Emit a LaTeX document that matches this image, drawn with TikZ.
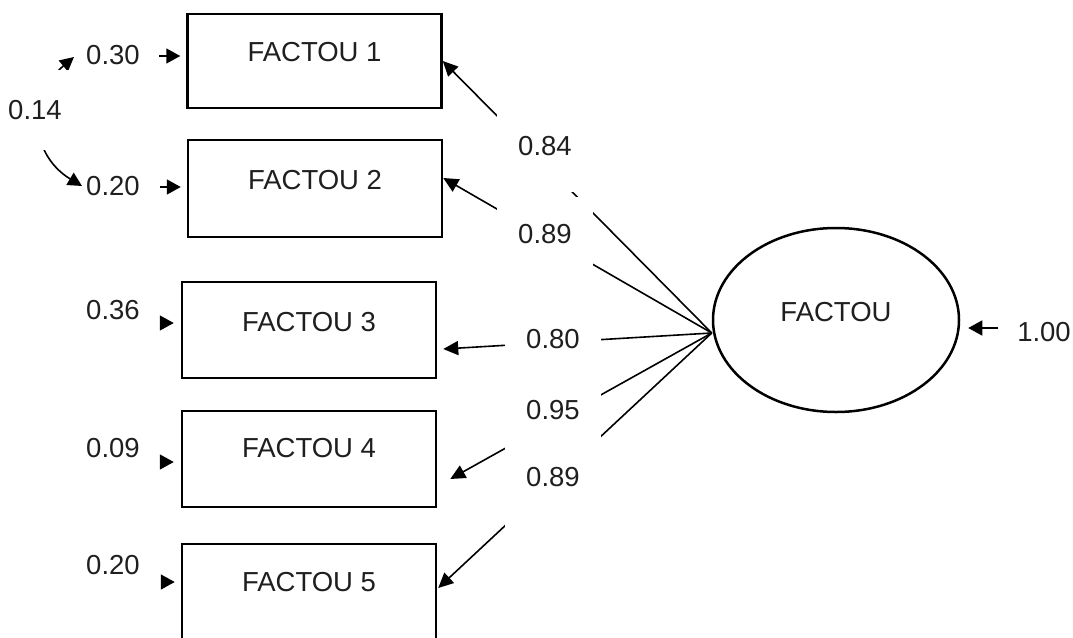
\documentclass[tikz,border=0pt]{standalone}
\usepackage{fontspec}
\setmainfont{Liberation Sans}
\usetikzlibrary{arrows.meta,shapes.geometric,calc}
\begin{document}
\begin{tikzpicture}[x=1pt,y=-1pt,
  every node/.style={font=\fontsize{27.5}{33}\selectfont, text=black!88},
  varbox/.style={draw, line width=2.5pt, rectangle, minimum width=254pt, inner sep=0pt},
  latent/.style={draw, line width=2.5pt, ellipse, minimum width=246pt, minimum height=184pt, inner sep=0pt},
  lbl/.style={fill=white, inner sep=0pt, minimum width=96pt},
  conn/.style={line width=1.6pt, -{Triangle[length=15pt,width=14pt]}},
  errarr/.style={line width=1.6pt, -{Triangle[length=14pt,width=15pt]}},
  cov/.style={line width=1.6pt, {Triangle[length=14pt,width=14pt]}-{Triangle[length=14pt,width=14pt]}}
]
\useasboundingbox (0,0) rectangle (1073,637);

% observed variables
\node[varbox, minimum height=94pt, label={[yshift=9pt]center:FACTOU 1}] (b1) at (314.5,61) {};
\node[varbox, minimum height=97pt, label={[yshift=8.5pt]center:FACTOU 2}] (b2) at (315,188.5) {};
\node[varbox, minimum height=96pt, label={[yshift=8pt]center:FACTOU 3}] (b3) at (309,330) {};
\node[varbox, minimum height=96pt, label={[yshift=11pt]center:FACTOU 4}] (b4) at (309,459) {};
\node[varbox, minimum height=96pt, label={[yshift=10pt]center:FACTOU 5}] (b5) at (309,592) {};

% latent variable
\node[latent, label={[yshift=8pt]center:FACTOU}] (lat) at (836,320) {};
\coordinate (cv) at ($(lat.west)+(0,13)$);

% loadings
\draw[conn] (cv) -- (b1.east);
\draw[conn] (cv) -- ($(b2.east)+(0,-10.5)$);
\draw[conn] (cv) -- ($(b3.east)+(6,19)$);
\draw[conn] (cv) -- ($(b4.east)+(13,20)$);
\draw[conn] (cv) -- ($(b5.east)+(1,-4)$);

\node[lbl, minimum height=92pt] (l1) at (545,146) {0.84};
\node[lbl, minimum height=74pt] (l2) at (545,234) {0.89};
\node[lbl, minimum height=70pt] (l3) at (553,339) {0.80};
\node[lbl, minimum height=70pt] (l4) at (553,410) {0.95};
\node[lbl, minimum height=104pt] (l5) at (553,477) {0.89};

% error terms
\node (e1) at (113,55) {0.30};
\node (e2) at (113,186) {0.20};
\node (e3) at (113,310) {0.36};
\node (e4) at (113,448) {0.09};
\node (e5) at (113,565) {0.20};
\draw[errarr] ($(b1.west)+(-27,-5)$) -- ($(b1.west)+(-6,-5)$);
\draw[errarr] ($(b2.west)+(-27,-1.5)$) -- ($(b2.west)+(-6,-1.5)$);
\draw[errarr] ($(b3.west)+(-21,-7)$) -- ($(b3.west)+(-7,-7)$);
\draw[errarr] ($(b4.west)+(-21,3)$) -- ($(b4.west)+(-7,3)$);
\draw[errarr] ($(b5.west)+(-20,-10)$) -- ($(b5.west)+(-6,-10)$);

% error covariance
\coordinate (c1) at (74,57);
\coordinate (c2) at (82,186);
\draw[cov] (c2) .. controls (32,156) and (24,99) .. (c1);
\node[fill=white, inner sep=0pt, minimum width=80pt, minimum height=80pt] (e0) at (35,110) {0.14};

% latent variance
\node (e6) at (1044,332) {1.00};
\draw[errarr] ($(lat.east)+(38,8)$) -- ($(lat.east)+(8,8)$);
\end{tikzpicture}
\end{document}
